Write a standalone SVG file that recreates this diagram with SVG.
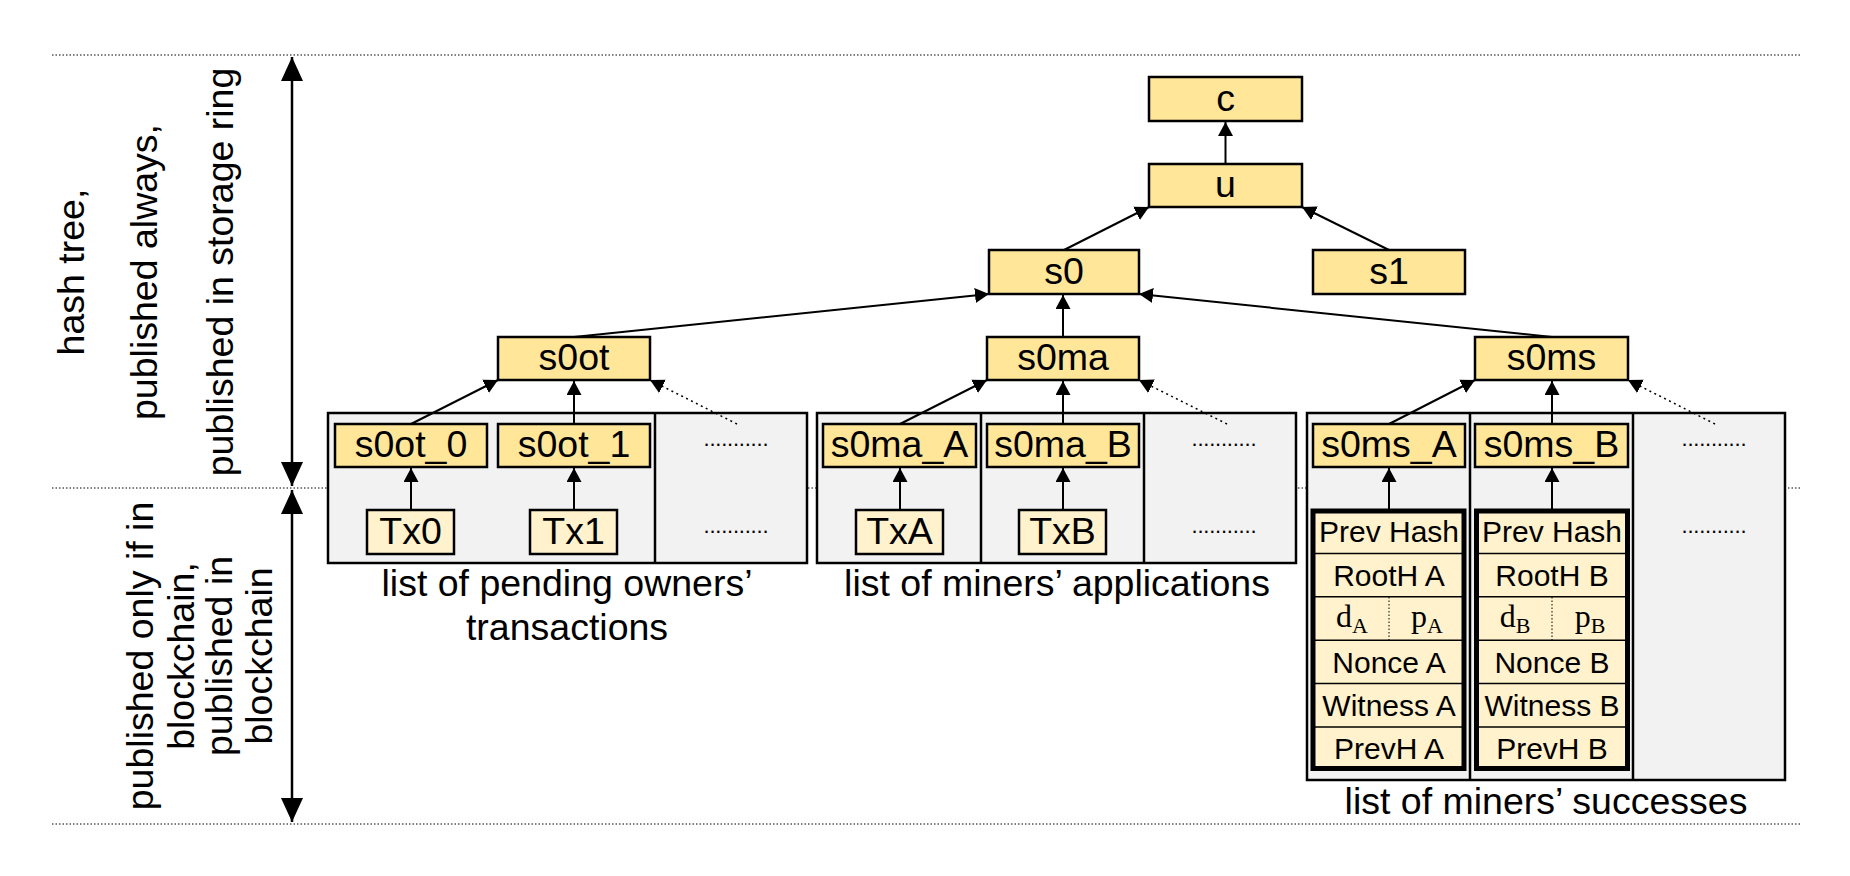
<svg xmlns="http://www.w3.org/2000/svg" width="1850" height="876" viewBox="0 0 1850 876">
<style>
.t{font-family:"Liberation Sans",Arial,sans-serif;font-size:37.5px;fill:#000;text-anchor:middle}
.r{font-family:"Liberation Sans",Arial,sans-serif;font-size:30px;fill:#000;text-anchor:middle}
.m{font-family:"Liberation Serif","Times New Roman",serif;font-size:32px;fill:#000;text-anchor:middle}
.dots{font-family:"Liberation Sans",Arial,sans-serif;font-size:22px;fill:#000;text-anchor:middle}
.n1{fill:#FFE699;stroke:#000;stroke-width:2.5}
.n2{fill:#FFF2CC;stroke:#000;stroke-width:2.5}
.box{fill:#F2F2F2;stroke:#000;stroke-width:2.5}
.blk{fill:#FFF2CC;stroke:#000;stroke-width:5}
.row{stroke:#000;stroke-width:1.5}
.sep{stroke:#000;stroke-width:1;stroke-dasharray:1.5 2}
.hl{stroke:#000;stroke-width:1;stroke-dasharray:1.5 2}
.c{stroke:#000;stroke-width:2;fill:none;marker-end:url(#a)}
.cd{stroke:#000;stroke-width:1.5;fill:none;stroke-dasharray:2 3.5;marker-end:url(#a)}
.v{stroke:#000;stroke-width:2.5;fill:none;marker-start:url(#b);marker-end:url(#b)}
</style>
<defs>
<marker id="a" viewBox="0 0 14 15" markerWidth="14" markerHeight="15" markerUnits="userSpaceOnUse" refX="14" refY="7.5" orient="auto"><path d="M0,0 L14,7.5 L0,15 z" fill="#000"/></marker>
<marker id="b" viewBox="0 0 24 22" markerWidth="24" markerHeight="22" markerUnits="userSpaceOnUse" refX="24" refY="11" orient="auto-start-reverse"><path d="M0,0 L24,11 L0,22 z" fill="#000"/></marker>
</defs>
<rect width="1850" height="876" fill="#fff"/>

<g id="guides">
<line class="hl" x1="52" y1="55" x2="1800" y2="55"/>
<line class="hl" x1="52" y1="488" x2="1800" y2="488"/>
<line class="hl" x1="52" y1="824" x2="1800" y2="824"/>
<line class="v" x1="292" y1="57" x2="292" y2="486"/>
<line class="v" x1="292" y1="490" x2="292" y2="822"/>
</g>

<g id="side-labels">
<text class="t" transform="translate(84,272) rotate(-90)">hash tree,</text>
<text class="t" transform="translate(157,272) rotate(-90)">published always,</text>
<text class="t" transform="translate(233,272) rotate(-90)">published in storage ring</text>
<text class="t" transform="translate(153,656) rotate(-90)">published only if in</text>
<text class="t" transform="translate(194,656) rotate(-90)">blockchain,</text>
<text class="t" transform="translate(232,656) rotate(-90)">published in</text>
<text class="t" transform="translate(272,656) rotate(-90)">blockchain</text>
</g>

<g id="list-ot">
<rect class="box" x="328" y="413" width="479" height="150"/>
<line x1="655" y1="413" x2="655" y2="563" stroke="#000" stroke-width="2.5"/>
<text class="dots" x="736" y="446" textLength="65" lengthAdjust="spacing">...........</text>
<text class="dots" x="736" y="533" textLength="65" lengthAdjust="spacing">...........</text>
<text class="t" x="567" y="596">list of pending owners’</text>
<text class="t" x="567" y="640">transactions</text>
</g>
<g id="list-ma">
<rect class="box" x="817" y="413" width="479" height="150"/>
<line x1="981" y1="413" x2="981" y2="563" stroke="#000" stroke-width="2.5"/>
<line x1="1144" y1="413" x2="1144" y2="563" stroke="#000" stroke-width="2.5"/>
<text class="dots" x="1224" y="446" textLength="65" lengthAdjust="spacing">...........</text>
<text class="dots" x="1224" y="533" textLength="65" lengthAdjust="spacing">...........</text>
<text class="t" x="1057" y="596">list of miners’ applications</text>
</g>
<g id="list-ms">
<rect class="box" x="1307" y="413" width="478" height="367"/>
<line x1="1470" y1="413" x2="1470" y2="780" stroke="#000" stroke-width="2.5"/>
<line x1="1633" y1="413" x2="1633" y2="780" stroke="#000" stroke-width="2.5"/>
<text class="dots" x="1714" y="446" textLength="65" lengthAdjust="spacing">...........</text>
<text class="dots" x="1714" y="533" textLength="65" lengthAdjust="spacing">...........</text>
<text class="t" x="1546" y="814">list of miners’ successes</text>
</g>

<g id="connectors">
<line class="c" x1="1225.5" y1="164" x2="1225.5" y2="122"/>
<line class="c" x1="1064" y1="250" x2="1149" y2="207"/>
<line class="c" x1="1389" y1="250" x2="1302" y2="207"/>
<line class="c" x1="574" y1="337" x2="989" y2="294"/>
<line class="c" x1="1063" y1="337" x2="1063" y2="295"/>
<line class="c" x1="1552" y1="337" x2="1139" y2="294"/>
<line class="c" x1="411" y1="424" x2="498" y2="380"/>
<line class="c" x1="574" y1="424" x2="574" y2="381"/>
<line class="cd" x1="737" y1="424" x2="650" y2="380"/>
<line class="c" x1="900" y1="424" x2="987" y2="380"/>
<line class="c" x1="1063" y1="424" x2="1063" y2="381"/>
<line class="cd" x1="1227" y1="424" x2="1139" y2="380"/>
<line class="c" x1="1389" y1="424" x2="1475" y2="380"/>
<line class="c" x1="1552" y1="424" x2="1552" y2="381"/>
<line class="cd" x1="1715" y1="424" x2="1628" y2="380"/>
<line class="c" x1="411" y1="510" x2="411" y2="468"/>
<line class="c" x1="574" y1="510" x2="574" y2="468"/>
<line class="c" x1="900" y1="510" x2="900" y2="468"/>
<line class="c" x1="1063" y1="510" x2="1063" y2="468"/>
<line class="c" x1="1389" y1="509" x2="1389" y2="468"/>
<line class="c" x1="1552" y1="509" x2="1552" y2="468"/>
</g>

<g id="c"><rect class="n1" x="1149" y="77" width="153" height="44"/><text class="t" x="1225.5" y="111">c</text></g>
<g id="u"><rect class="n1" x="1149" y="164" width="153" height="43"/><text class="t" x="1225.5" y="197">u</text></g>
<g id="s0"><rect class="n1" x="989" y="250" width="150" height="44"/><text class="t" x="1064" y="284">s0</text></g>
<g id="s1"><rect class="n1" x="1313" y="250" width="152" height="44"/><text class="t" x="1389" y="284">s1</text></g>
<g id="s0ot"><rect class="n1" x="498" y="337" width="152" height="43"/><text class="t" x="574" y="370">s0ot</text></g>
<g id="s0ma"><rect class="n1" x="987" y="337" width="152" height="43"/><text class="t" x="1063" y="370">s0ma</text></g>
<g id="s0ms"><rect class="n1" x="1475" y="337" width="153" height="43"/><text class="t" x="1551.5" y="370">s0ms</text></g>

<g id="s0ot_0"><rect class="n1" x="335" y="424" width="152" height="43"/><text class="t" x="411" y="457">s0ot_0</text></g>
<g id="s0ot_1"><rect class="n1" x="498" y="424" width="152" height="43"/><text class="t" x="574" y="457">s0ot_1</text></g>
<g id="s0ma_A"><rect class="n1" x="823" y="424" width="153" height="43"/><text class="t" x="899.5" y="457">s0ma_A</text></g>
<g id="s0ma_B"><rect class="n1" x="987" y="424" width="152" height="43"/><text class="t" x="1063" y="457">s0ma_B</text></g>
<g id="s0ms_A"><rect class="n1" x="1313" y="424" width="152" height="43"/><text class="t" x="1389" y="457">s0ms_A</text></g>
<g id="s0ms_B"><rect class="n1" x="1475" y="424" width="153" height="43"/><text class="t" x="1551.5" y="457">s0ms_B</text></g>

<g id="Tx0"><rect class="n2" x="367" y="510" width="87" height="44"/><text class="t" x="410.5" y="544">Tx0</text></g>
<g id="Tx1"><rect class="n2" x="530" y="510" width="87" height="44"/><text class="t" x="573.5" y="544">Tx1</text></g>
<g id="TxA"><rect class="n2" x="856" y="510" width="87" height="44"/><text class="t" x="899.5" y="544">TxA</text></g>
<g id="TxB"><rect class="n2" x="1019" y="510" width="87" height="44"/><text class="t" x="1062.5" y="544">TxB</text></g>

<g id="block-A">
<rect class="blk" x="1313" y="511" width="151" height="257.5"/>
<line class="row" x1="1315" y1="553.4" x2="1462" y2="553.4"/>
<line class="row" x1="1315" y1="596.8" x2="1462" y2="596.8"/>
<line class="row" x1="1315" y1="640.2" x2="1462" y2="640.2"/>
<line class="row" x1="1315" y1="683.6" x2="1462" y2="683.6"/>
<line class="row" x1="1315" y1="727" x2="1462" y2="727"/>
<line class="sep" x1="1389" y1="597" x2="1389" y2="640"/>
<text class="r" x="1389" y="542">Prev Hash</text>
<text class="r" x="1389" y="586">RootH A</text>
<text class="m" x="1352" y="627">d<tspan font-size="22" dy="6">A</tspan></text>
<text class="m" x="1427" y="627">p<tspan font-size="22" dy="6">A</tspan></text>
<text class="r" x="1389" y="673">Nonce A</text>
<text class="r" x="1389" y="716">Witness A</text>
<text class="r" x="1389" y="759">PrevH A</text>
</g>
<g id="block-B">
<rect class="blk" x="1476.5" y="511" width="151" height="257.5"/>
<line class="row" x1="1478" y1="553.4" x2="1626" y2="553.4"/>
<line class="row" x1="1478" y1="596.8" x2="1626" y2="596.8"/>
<line class="row" x1="1478" y1="640.2" x2="1626" y2="640.2"/>
<line class="row" x1="1478" y1="683.6" x2="1626" y2="683.6"/>
<line class="row" x1="1478" y1="727" x2="1626" y2="727"/>
<line class="sep" x1="1552" y1="597" x2="1552" y2="640"/>
<text class="r" x="1552" y="542">Prev Hash</text>
<text class="r" x="1552" y="586">RootH B</text>
<text class="m" x="1515" y="627">d<tspan font-size="22" dy="6">B</tspan></text>
<text class="m" x="1590" y="627">p<tspan font-size="22" dy="6">B</tspan></text>
<text class="r" x="1552" y="673">Nonce B</text>
<text class="r" x="1552" y="716">Witness B</text>
<text class="r" x="1552" y="759">PrevH B</text>
</g>
</svg>
